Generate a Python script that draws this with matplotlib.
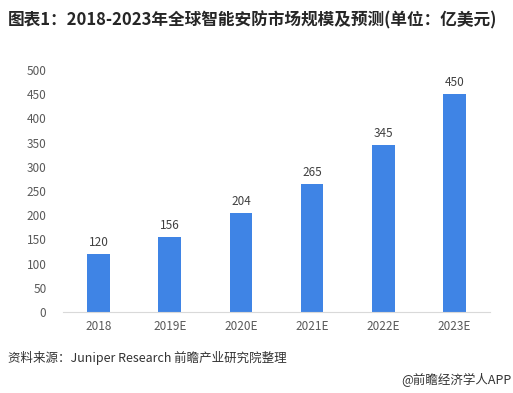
import matplotlib.pyplot as plt

plt.rcParams['font.family'] = ['Noto Sans CJK SC', 'DejaVu Sans']

years = ['2018', '2019E', '2020E', '2021E', '2022E', '2023E']
values = [120, 156, 204, 265, 345, 450]
yticks = list(range(0, 501, 50))

fig = plt.figure(figsize=(5.13, 3.93), dpi=100)
ax = fig.add_axes([0.123, 0.206, 0.832, 0.616])

bars = ax.bar(range(len(years)), values, width=0.32, color='#3f84e5')
for i, v in enumerate(values):
    ax.text(i, v + 10, str(v), ha='center', va='bottom', fontsize=8.5, color='#404040')

ax.set_xlim(-0.5, len(years) - 0.5)
ax.set_ylim(0, 500)
ax.set_xticks(range(len(years)))
ax.set_xticklabels(years)
ax.set_yticks(yticks)
ax.tick_params(length=0, labelsize=8.5, labelcolor='#595959')
ax.tick_params(axis='y', pad=12)
ax.tick_params(axis='x', pad=6)

for side in ['top', 'right', 'left']:
    ax.spines[side].set_visible(False)
ax.spines['bottom'].set_color('#d9d9d9')

fig.text(0.016, 0.948, '图表1：2018-2023年全球智能安防市场规模及预测(单位：亿美元)',
         fontsize=12, fontweight='bold', color='#262626', va='center')
fig.text(0.016, 0.088, '资料来源：Juniper Research 前瞻产业研究院整理',
         fontsize=9, color='#333333', va='center')
fig.text(0.997, 0.033, '@前瞻经济学人APP', fontsize=9, color='#333333',
         va='center', ha='right')

fig.savefig('out.png', dpi=100)
